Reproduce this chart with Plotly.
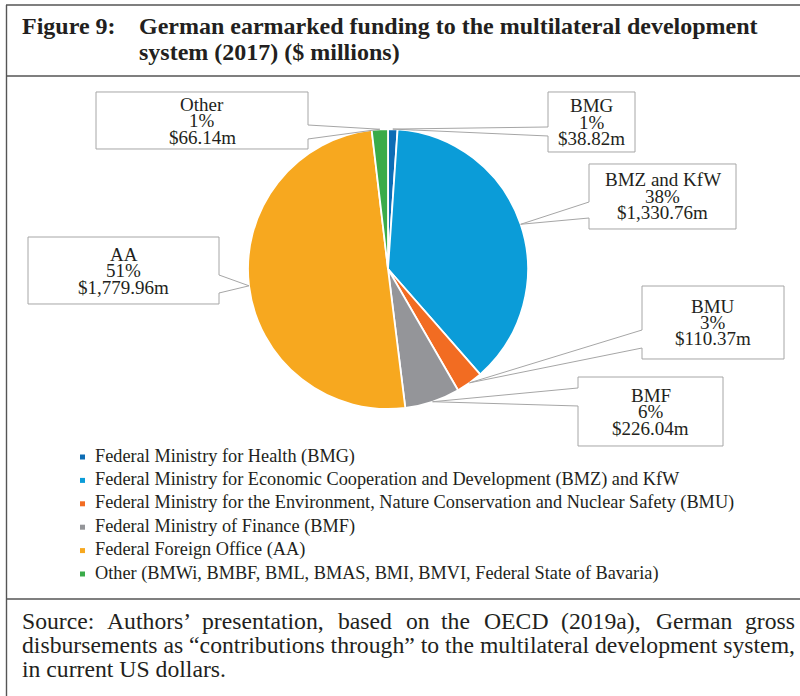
import math
import plotly.graph_objects as go

W, H = 800, 696

# ---------------- data ----------------
short_labels = ["BMG", "BMZ and KfW", "BMU", "BMF", "AA", "Other"]
full_labels = [
    "Federal Ministry for Health (BMG)",
    "Federal Ministry for Economic Cooperation and Development (BMZ) and KfW",
    "Federal Ministry for the Environment, Nature Conservation and Nuclear Safety (BMU)",
    "Federal Ministry of Finance (BMF)",
    "Federal Foreign Office (AA)",
    "Other (BMWi, BMBF, BML, BMAS, BMI, BMVI, Federal State of Bavaria)",
]
values = [38.82, 1330.76, 110.37, 226.04, 1779.96, 66.14]
pct_labels = ["1%", "38%", "3%", "6%", "51%", "1%"]
colors = ["#0D6DB5", "#0B9CD8", "#F26C22", "#949599", "#F7A81F", "#3AAB49"]

title_num = "Figure 9:"
title_lines = ["German earmarked funding to the multilateral development",
               "system (2017) ($ millions)"]
source_lines = [
    "Source: Authors’ presentation, based on the OECD (2019a), German gross",
    "disbursements as “contributions through” to the multilateral development system,",
    "in current US dollars.",
]

# ---------------- layout constants (pixels) ----------------
TXT = "#231F20"
FONT = "Liberation Serif"
cx, cy, r = 388, 269, 140
# label boxes: x0, y0, x1, y1, pointer side, pointer base y1, y2
boxes = [
    (548, 92, 635, 152, "left", 127, 136),
    (589, 164, 736, 229, "left", 202, 218),
    (642, 286, 784, 359, "left", 330, 348),
    (578, 377, 723, 446, "left", 388, 406),
    (28, 237, 219, 304, "right", 275, 293),
    (96, 92, 308, 149, "right", 125, 139),
]
src_word_x = [20, 105, 200, 336, 404, 439, 482, 559, 654, 743]


def X(px):
    return px / W


def Y(py):
    return 1 - py / H


annotations = []
shapes = []


def txt(x, y, s, size, anchor="left"):
    annotations.append(dict(
        x=X(x), y=Y(y), xref="paper", yref="paper", text=s, showarrow=False,
        xanchor=anchor, yanchor="middle",
        font=dict(family=FONT, size=size, color=TXT)))


def line(x0, y0, x1, y1, color="#555555", width=1.4):
    shapes.append(dict(type="line", xref="paper", yref="paper",
                       x0=X(x0), y0=Y(y0), x1=X(x1), y1=Y(y1),
                       line=dict(color=color, width=width)))


fig = go.Figure()
fig.add_trace(go.Pie(
    labels=short_labels, values=values, sort=False, direction="clockwise",
    rotation=0, textinfo="none", hoverinfo="label+value+percent",
    marker=dict(colors=colors, line=dict(color="white", width=1.8)),
    showlegend=False,
    domain=dict(x=[X(cx - r), X(cx + r)], y=[Y(cy + r), Y(cy - r)]),
))

# ---- frame ----
line(6.5, 5, 6.5, 696)
line(6, 5, 800, 5)
line(6, 76, 800, 76)
line(6, 599, 800, 599)

# ---- title ----
title_size = 24
txt(20, 26, f"<b>{title_num}</b>", title_size)
txt(137, 26, f"<b>{title_lines[0]}</b>", title_size)
txt(137, 52, f"<b>{title_lines[1]}</b>", title_size)

# ---- callout labels ----
total = sum(values)
cum = 0.0
for i, v in enumerate(values):
    mid = (cum + v / 2) / total * 2 * math.pi
    cum += v
    px = cx + r * math.sin(mid)
    py = cy - r * math.cos(mid)
    x0, y0, x1, y1, side, b1, b2 = boxes[i]
    if side == "left":
        pts = [(x0, y0), (x1, y0), (x1, y1), (x0, y1), (x0, b2), (px, py), (x0, b1)]
    else:
        pts = [(x0, y0), (x1, y0), (x1, b1), (px, py), (x1, b2), (x1, y1), (x0, y1)]
    path = "M " + " L ".join(f"{X(a):.5f},{Y(b):.5f}" for a, b in pts) + " Z"
    shapes.append(dict(type="path", xref="paper", yref="paper", path=path,
                       line=dict(color="#A6A6A6", width=1),
                       fillcolor="rgba(0,0,0,0)"))
    bx = (x0 + x1) / 2
    by = (y0 + y1) / 2
    amount = f"${v:,.2f}m"
    for k, s in enumerate([short_labels[i], pct_labels[i], amount]):
        txt(bx, by + (k - 1) * 16.5, s, 19, anchor="center")

# ---- legend (custom) ----
leg_y0, leg_dy = 456, 23.4
for i, name in enumerate(full_labels):
    yy = leg_y0 + i * leg_dy
    shapes.append(dict(type="rect", xref="paper", yref="paper",
                       x0=X(80), x1=X(85), y0=Y(yy - 1.5), y1=Y(yy + 3.5),
                       line=dict(width=0), fillcolor=colors[i]))
    txt(93, yy, name, 18.3)

# ---- source ----
src_size = 23.7
words = source_lines[0].split(" ")
for w_, xx in zip(words, src_word_x):
    txt(xx, 621, w_, src_size)
txt(20, 645, source_lines[1], src_size)
txt(20, 669, source_lines[2], src_size)

fig.update_layout(
    width=W, height=H, margin=dict(l=0, r=0, t=0, b=0),
    paper_bgcolor="white", plot_bgcolor="white",
    shapes=shapes, annotations=annotations,
    xaxis=dict(visible=False), yaxis=dict(visible=False),
)
fig.write_html("out.html", config={"displayModeBar": False},
               post_script="document.body.style.margin='0px';document.body.style.overflow='hidden';")
